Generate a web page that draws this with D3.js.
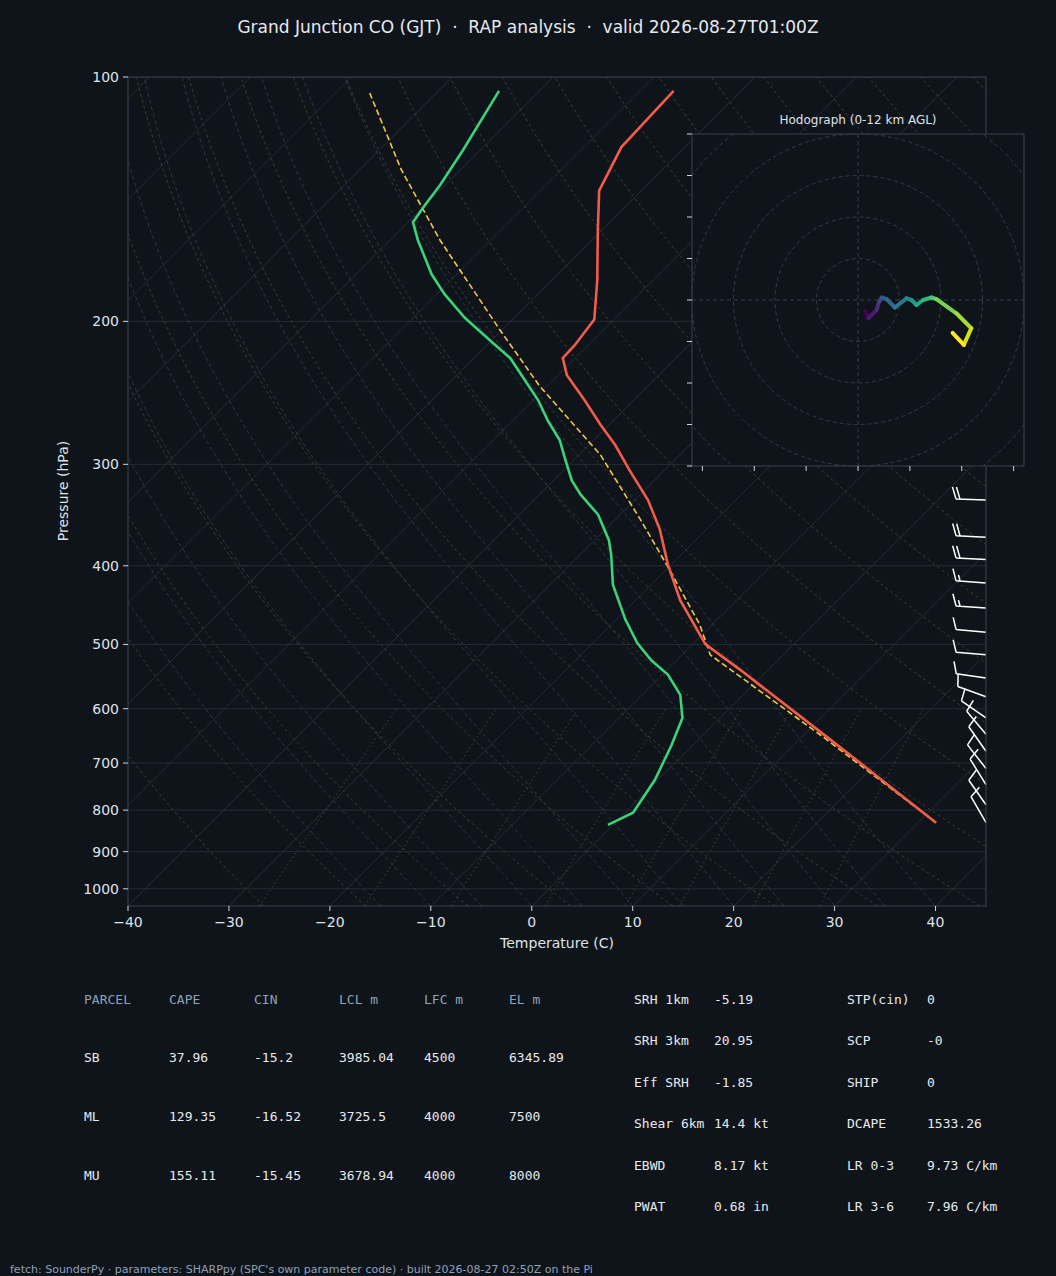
<!DOCTYPE html>
<html><head><meta charset="utf-8">
<script src="https://cdn.jsdelivr.net/npm/d3@7"></script>
<style>
body{margin:0;background:#0f141a;}
text{font-family:"DejaVu Sans",sans-serif;}
.mono{font-family:"DejaVu Sans Mono",monospace;}
</style></head>
<body><svg id="c" width="1056" height="1276"></svg>
<script>
// sounding (hPa, degC)
const tempP = [829,655,537,500,441,399,361,332,305,284,268,250,233,222,214,199,178,154,138,122,104];
const tempT = [31.8,13.1,-2.8,-8.7,-15.6,-20.3,-24.6,-28.7,-33.5,-37.4,-40.9,-44.9,-49.1,-51.2,-51.3,-51.9,-55.5,-60.5,-64.2,-66.3,-66.7];
const dewP = [834,806,734,665,616,577,545,523,498,466,422,388,372,346,327,314,296,280,265,250,222,211,198,185,175,159,151,144,136,123,104];
const dewT = [-0.5,0.8,-0.3,-2.1,-3.7,-6.2,-9.4,-12.5,-15.6,-19.1,-23.8,-26.9,-28.6,-32.2,-35.9,-38.2,-40.9,-43.4,-46.5,-49.5,-56.4,-60.2,-64.9,-69.3,-72.5,-77.2,-79.5,-80,-80.5,-81.7,-84];
const parcelP = [829,646,515,473,405,351,292,240,205,159,130,104];
const parcelT = [31.8,11.6,-7.2,-11.2,-19.6,-27.5,-37.9,-50.8,-60.2,-75,-85.9,-96.9];
// wind barbs
const barbP = [332,369,393,420,451,483,515,550,580,616,645,677,711,744,788,829];
const barbDir = [272,273,273,274,274,275,275,278,290,305,320,325,322,328,325,330];
const barbSpd = [20,20,20,15,15,10,10,10,10,10,10,10,10,10,10,10];
// hodograph (kt)
const hodoU = [1.7,2.5,4.5,5.1,5.7,6.9,8.9,11.7,12.9,14.1,15.7,17.7,18.9,23.7,27.3,25.5,22.8];
const hodoV = [-2.6,-4.4,-2.4,-0.4,0.6,0.2,-1.8,0.4,0,-1.2,0,0.6,0.2,-3.2,-6.8,-10.8,-7.9];
const pTicks = [100,200,300,400,500,600,700,800,900,1000];
const tTicks = [-40,-30,-20,-10,0,10,20,30,40];
// tables
const parcelHead = ["PARCEL","CAPE","CIN","LCL m","LFC m","EL m"];
const parcelRows = [["SB","37.96","-15.2","3985.04","4500","6345.89"],
                    ["ML","129.35","-16.52","3725.5","4000","7500"],
                    ["MU","155.11","-15.45","3678.94","4000","8000"]];
const paramL = [["SRH 1km","-5.19"],["SRH 3km","20.95"],["Eff SRH","-1.85"],["Shear 6km","14.4 kt"],["EBWD","8.17 kt"],["PWAT","0.68 in"]];
const paramR = [["STP(cin)","0"],["SCP","-0"],["SHIP","0"],["DCAPE","1533.26"],["LR 0-3","9.73 C/km"],["LR 3-6","7.96 C/km"]];

const svg = d3.select("#c");
svg.append("rect").attr("width",1056).attr("height",1276).attr("fill","#0f141a");
const L=128,R=986,T=77,B=906;
const x = d3.scaleLinear().domain([-40,45]).range([L,R]);
const y = d3.scaleLog().domain([100,1050]).range([T,B]);
const sx = (t,p) => x(t) + (B - y(p));

svg.append("text").attr("x",528).attr("y",33).attr("text-anchor","middle").attr("fill","#e6e9ee").attr("font-size",17)
  .attr("xml:space","preserve").style("white-space","pre")
  .text("Grand Junction CO (GJT)  ·  RAP analysis  ·  valid 2026-08-27T01:00Z");

svg.append("defs").append("clipPath").attr("id","pc").append("rect").attr("x",L).attr("y",T).attr("width",R-L).attr("height",B-T);
const g = svg.append("g").attr("clip-path","url(#pc)");
const line = d3.line().x(d=>sx(d[0],d[1])).y(d=>y(d[1]));
const levels = d3.range(1050,99,-10);

// isobars
pTicks.forEach(p=>g.append("line").attr("x1",L).attr("x2",R).attr("y1",y(p)).attr("y2",y(p)).attr("stroke","#252c36").attr("stroke-width",1));
// isotherms
d3.range(-140,50,10).forEach(t=>g.append("path").attr("d",line([[t,1050],[t,100]])).attr("stroke","#262d38").attr("fill","none"));
// dry adiabats
d3.range(-30,200,10).forEach(th=>{
  const pts = levels.map(p=>[(th+273.15)*Math.pow(p/1000,0.2857)-273.15,p]);
  g.append("path").attr("d",line(pts)).attr("stroke","#4a3f30").attr("stroke-dasharray","3,3").attr("fill","none").attr("stroke-width",0.9);
});
// moist adiabats
function es(t){return 6.112*Math.exp(17.67*t/(t+243.5));}
d3.range(-15,45,5).forEach(t0=>{
  let t=t0, pts=[[t,1050]];
  for(let p=1050;p>100;p-=5){
    const tk=t+273.15, rs=0.622*es(t)/(p-es(t));
    const dtdp=(0.2857*tk+2.5e6*rs/287)/(p*(1+2.5e6*2.5e6*rs*0.622/(1004*287*tk*tk)));
    t-=dtdp*5; pts.push([t,p-5]);
  }
  g.append("path").attr("d",line(pts)).attr("stroke","#2c3d4a").attr("stroke-dasharray","4,3").attr("fill","none").attr("stroke-width",0.9);
});
// mixing ratio
[0.4,1,2,4,7,10,16,24].forEach(w=>{
  const pts = d3.range(1050,595,-15).map(p=>{const e=w/1000*p/(0.622+w/1000);const a=Math.log(e/6.112);return [243.5*a/(17.67-a),p];});
  g.append("path").attr("d",line(pts)).attr("stroke","#33503a").attr("stroke-dasharray","1.5,3").attr("fill","none");
});

const zip=(P,V)=>P.map((p,i)=>[V[i],p]);
g.append("path").attr("d",line(zip(parcelP,parcelT))).attr("stroke","#f2c744").attr("stroke-width",1.6).attr("stroke-dasharray","6,3").attr("fill","none");
g.append("path").attr("d",line(zip(tempP,tempT))).attr("stroke","#f25c4a").attr("stroke-width",2.6).attr("fill","none");
g.append("path").attr("d",line(zip(dewP,dewT))).attr("stroke","#3dd17a").attr("stroke-width",2.6).attr("fill","none");

// barbs
barbP.forEach((p,i)=>{
  const a=barbDir[i]*Math.PI/180, dx=Math.sin(a), dy=-Math.cos(a);
  const bx=R, by=y(p), len=30;
  const ex=bx+dx*len, ey=by+dy*len;
  const px=-dy, py=dx;
  let d=`M${bx},${by}L${ex},${ey}`;
  let s=barbSpd[i], k=0;
  while(s>=10){const ox=ex-dx*k*4, oy=ey-dy*k*4; d+=`M${ox},${oy}L${ox+px*12+dx*4},${oy+py*12+dy*4}`; s-=10;k++;}
  if(s>=5){const ox=ex-dx*k*4, oy=ey-dy*k*4; d+=`M${ox},${oy}L${ox+px*6+dx*2},${oy+py*6+dy*2}`;}
  svg.append("path").attr("d",d).attr("stroke","#ffffff").attr("stroke-width",1.5).attr("fill","none");
});

// frame and axes
svg.append("rect").attr("x",L).attr("y",T).attr("width",R-L).attr("height",B-T).attr("fill","none").attr("stroke","#3a4350");
pTicks.forEach(p=>{
  svg.append("line").attr("x1",L-5).attr("x2",L).attr("y1",y(p)).attr("y2",y(p)).attr("stroke","#cfd5dd");
  svg.append("text").attr("x",L-9).attr("y",y(p)+5).attr("text-anchor","end").attr("fill","#dfe3e8").attr("font-size",14).text(p);
});
tTicks.forEach(t=>{
  svg.append("line").attr("x1",x(t)).attr("x2",x(t)).attr("y1",B).attr("y2",B+5).attr("stroke","#cfd5dd");
  svg.append("text").attr("x",x(t)).attr("y",B+21).attr("text-anchor","middle").attr("fill","#dfe3e8").attr("font-size",14).text(t<0?"\u2212"+(-t):t);
});
svg.append("text").attr("x",557).attr("y",948).attr("text-anchor","middle").attr("fill","#dfe3e8").attr("font-size",14).text("Temperature (C)");
svg.append("text").attr("transform","translate(68,491) rotate(-90)").attr("text-anchor","middle").attr("fill","#dfe3e8").attr("font-size",14).text("Pressure (hPa)");

// hodograph
const HL=692,HR=1024,HT=134,HB=466, hc=[858,300];
const hk = d3.scaleLinear().domain([0,40]).range([0,166]);
const h = svg.append("g");
h.append("rect").attr("x",HL).attr("y",HT).attr("width",HR-HL).attr("height",HB-HT).attr("fill","#0f141a").attr("stroke","#3a4350");
h.append("text").attr("x",858).attr("y",124).attr("text-anchor","middle").attr("fill","#dfe3e8").attr("font-size",12).text("Hodograph (0-12 km AGL)");
h.append("clipPath").attr("id","hc").append("rect").attr("x",HL).attr("y",HT).attr("width",HR-HL).attr("height",HB-HT);
const hg=h.append("g").attr("clip-path","url(#hc)");
[10,20,30,40,50].forEach(r=>hg.append("circle").attr("cx",hc[0]).attr("cy",hc[1]).attr("r",hk(r)).attr("fill","none").attr("stroke","#333c48").attr("stroke-dasharray","4,3"));
hg.append("line").attr("x1",HL).attr("x2",HR).attr("y1",hc[1]).attr("y2",hc[1]).attr("stroke","#333c48").attr("stroke-dasharray","4,3");
hg.append("line").attr("x1",hc[0]).attr("x2",hc[0]).attr("y1",HT).attr("y2",HB).attr("stroke","#333c48").attr("stroke-dasharray","4,3");
d3.range(-40,41,10).forEach(v=>h.append("line").attr("x1",HL-5).attr("x2",HL).attr("y1",hc[1]-hk(v)).attr("y2",hc[1]-hk(v)).attr("stroke","#cfd5dd"));
d3.range(-30,31,10).forEach(u=>h.append("line").attr("x1",hc[0]+hk(u)*1.25).attr("x2",hc[0]+hk(u)*1.25).attr("y1",HB).attr("y2",HB+5).attr("stroke","#cfd5dd"));
const nH=hodoU.length;
for(let i=0;i<nH-1;i++){
  hg.append("line").attr("x1",hc[0]+hk(hodoU[i])).attr("y1",hc[1]-hk(hodoV[i]))
    .attr("x2",hc[0]+hk(hodoU[i+1])).attr("y2",hc[1]-hk(hodoV[i+1]))
    .attr("stroke",d3.interpolateViridis(i/(nH-2))).attr("stroke-width",4).attr("stroke-linecap","round");
}

// tables
const cx=[84,169,254,339,424,509], ry=[1058,1117,1176];
parcelHead.forEach((s,j)=>svg.append("text").attr("class","mono").attr("x",cx[j]).attr("y",1004).attr("fill","#8ea2b8").attr("font-size",13).text(s));
parcelRows.forEach((r,i)=>r.forEach((s,j)=>svg.append("text").attr("class","mono").attr("x",cx[j]).attr("y",ry[i]+4).attr("fill","#e6e9ee").attr("font-size",13).text(s)));
const py=[1000,1041,1083,1124,1166,1207];
paramL.forEach((r,i)=>{svg.append("text").attr("class","mono").attr("x",634).attr("y",py[i]+4).attr("fill","#e6e9ee").attr("font-size",13).text(r[0]);
  svg.append("text").attr("class","mono").attr("x",714).attr("y",py[i]+4).attr("fill","#e6e9ee").attr("font-size",13).text(r[1]);});
paramR.forEach((r,i)=>{svg.append("text").attr("class","mono").attr("x",847).attr("y",py[i]+4).attr("fill","#e6e9ee").attr("font-size",13).text(r[0]);
  svg.append("text").attr("class","mono").attr("x",927).attr("y",py[i]+4).attr("fill","#e6e9ee").attr("font-size",13).text(r[1]);});
svg.append("text").attr("x",10).attr("y",1273).attr("fill","#8ea2b8").attr("font-size",11)
  .text("fetch: SounderPy · parameters: SHARPpy (SPC's own parameter code) · built 2026-08-27 02:50Z on the Pi");
</script></body></html>
